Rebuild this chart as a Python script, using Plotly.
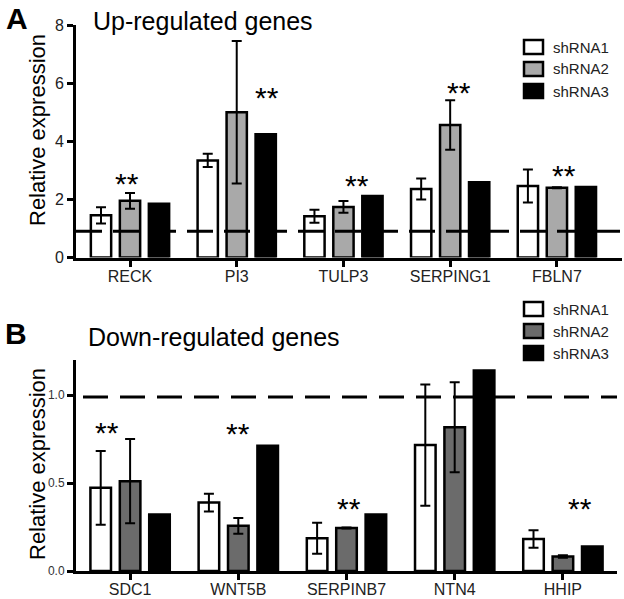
import plotly.graph_objects as go

# ---------------- data ----------------
series_names = ["shRNA1", "shRNA2", "shRNA3"]

up_genes = ["RECK", "PI3", "TULP3", "SERPING1", "FBLN7"]
up_sh1 = [1.45, 3.34, 1.42, 2.36, 2.46]
up_sh1_err = [0.28, 0.23, 0.22, 0.36, 0.57]
up_sh2 = [1.95, 5.00, 1.74, 4.56, 2.40]
up_sh2_err = [0.27, 2.45, 0.20, 0.85, 0.02]
up_sh3 = [1.85, 4.24, 2.12, 2.59, 2.43]
up_star_x = [-0.03, 1.28, 2.13, 3.08, 4.07]
up_star_y = [2.75, 5.70, 2.68, 5.90, 3.02]
up_ref = 0.9

down_genes = ["SDC1", "WNT5B", "SERPINB7", "NTN4", "HHIP"]
down_sh1 = [0.473, 0.389, 0.186, 0.716, 0.182]
down_sh1_err = [0.21, 0.05, 0.088, 0.345, 0.05]
down_sh2 = [0.511, 0.257, 0.245, 0.818, 0.082]
down_sh2_err = [0.24, 0.045, 0.003, 0.256, 0.007]
down_sh3 = [0.322, 0.712, 0.322, 1.14, 0.14]
down_star_x = [-0.21, 1.00, 2.02, 4.16]
down_star_y = [0.82, 0.815, 0.39, 0.39]
down_ref = 0.99

up_ticks = [0, 2, 4, 6, 8]
down_ticks = [0, 0.5, 1.0]
down_ticktext = ["0.0", "0.5", "1.0"]

# ---------------- style ----------------
FONT = "Liberation Sans, Arial, Helvetica, sans-serif"
colors_up = ["white", "#a9a9a9", "black"]
colors_down = ["white", "#6b6b6b", "black"]

fig = go.Figure()

def add_panel(vals, errs, colors, xa, ya):
    for i, (v, e) in enumerate(zip(vals, errs)):
        fig.add_trace(go.Bar(
            x=list(range(len(v))), y=v, name=series_names[i],
            marker=dict(color=colors[i], line=dict(color="black", width=2.5)),
            error_y=(dict(type="data", array=e, visible=True, color="black",
                          thickness=2, width=5) if e is not None else dict(visible=False)),
            xaxis=xa, yaxis=ya, showlegend=False,
        ))

add_panel([up_sh1, up_sh2, up_sh3], [up_sh1_err, up_sh2_err, None], colors_up, "x", "y")
add_panel([down_sh1, down_sh2, down_sh3], [down_sh1_err, down_sh2_err, None], colors_down, "x2", "y2")

W, H = 624, 599
def px(x):
    return x / W
def py(y):
    return 1 - y / H

axis_common = dict(showline=True, linecolor="black", linewidth=3, showgrid=False,
                   zeroline=False, ticks="outside", tickwidth=2.5, tickcolor="black",
                   ticklen=6, automargin=False)

fig.update_layout(
    width=W, height=H, margin=dict(l=0, r=0, t=0, b=0, pad=0),
    paper_bgcolor="white", plot_bgcolor="white",
    barmode="group", bargap=0.185, bargroupgap=0.3,
    font=dict(family=FONT, color="black"),
    xaxis=dict(axis_common, domain=[px(76), px(622)], range=[-0.506, 4.61],
               tickvals=list(range(5)), ticktext=up_genes, anchor="y",
               tickfont=dict(size=16, color="#222"), ticklabelstandoff=-4),
    yaxis=dict(axis_common, domain=[py(257.5), py(25)], range=[0, 8],
               tickvals=up_ticks, anchor="x", tickfont=dict(size=16, color="#222")),
    xaxis2=dict(axis_common, domain=[px(76), px(617)], range=[-0.5, 4.5],
                tickvals=list(range(5)), ticktext=down_genes, anchor="y2",
                tickfont=dict(size=16, color="#222"), ticklabelstandoff=-4),
    yaxis2=dict(axis_common, domain=[py(571), py(360)], range=[0, 1.2],
                tickvals=down_ticks, ticktext=down_ticktext, anchor="x2",
                tickfont=dict(size=12, color="#333")),
)

# reference dashed lines
fig.add_shape(type="line", xref="x domain", yref="y", x0=0, x1=1, y0=up_ref, y1=up_ref,
              line=dict(color="black", width=3, dash="26px,11px"), layer="above")
fig.add_shape(type="line", xref="x2 domain", yref="y2", x0=7 / 541, x1=1, y0=down_ref, y1=down_ref,
              line=dict(color="black", width=3, dash="25px,12px"), layer="above")

# significance stars
for sx, sy in zip(up_star_x, up_star_y):
    fig.add_annotation(x=sx, y=sy, xref="x", yref="y", text="**", showarrow=False,
                       font=dict(size=30, family=FONT, color="black"), yshift=-6)
for sx, sy in zip(down_star_x, down_star_y):
    fig.add_annotation(x=sx, y=sy, xref="x2", yref="y2", text="**", showarrow=False,
                       font=dict(size=30, family=FONT, color="black"), yshift=-6)

# panel letters, titles, y titles
fig.add_annotation(x=px(4), y=py(19), xref="paper", yref="paper", text="<b>A</b>",
                   showarrow=False, xanchor="left", yanchor="middle",
                   font=dict(size=30, family=FONT))
fig.add_annotation(x=px(3), y=py(333), xref="paper", yref="paper", text="<b>B</b>",
                   showarrow=False, xanchor="left", yanchor="middle",
                   font=dict(size=30, family=FONT))
fig.add_annotation(x=px(91), y=py(21), xref="paper", yref="paper", text="Up-regulated genes",
                   showarrow=False, xanchor="left", yanchor="middle",
                   font=dict(size=25, family=FONT))
fig.add_annotation(x=px(86), y=py(337), xref="paper", yref="paper", text="Down-regulated genes",
                   showarrow=False, xanchor="left", yanchor="middle",
                   font=dict(size=25, family=FONT))
fig.add_annotation(x=px(37), y=py(130), xref="paper", yref="paper", text="Relative expression",
                   showarrow=False, textangle=-90, xanchor="center", yanchor="middle",
                   font=dict(size=22, family=FONT))
fig.add_annotation(x=px(37), y=py(464), xref="paper", yref="paper", text="Relative expression",
                   showarrow=False, textangle=-90, xanchor="center", yanchor="middle",
                   font=dict(size=22, family=FONT))

# manual legends
def legend(top, colors):
    for i, (name, c) in enumerate(zip(series_names, colors)):
        cy = top + i * 22
        fig.add_shape(type="rect", xref="paper", yref="paper",
                      x0=px(524), x1=px(543), y0=py(cy - 7), y1=py(cy + 7),
                      fillcolor=c, line=dict(color="black", width=2.5))
        fig.add_annotation(x=px(551), y=py(cy), xref="paper", yref="paper", text=name,
                           showarrow=False, xanchor="left", yanchor="middle",
                           font=dict(size=15, family=FONT, color="#222"))

legend(47, colors_up)
legend(309, colors_down)

fig.write_html("out.html", config={"displayModeBar": False},
               post_script="document.body.style.margin='0';")
